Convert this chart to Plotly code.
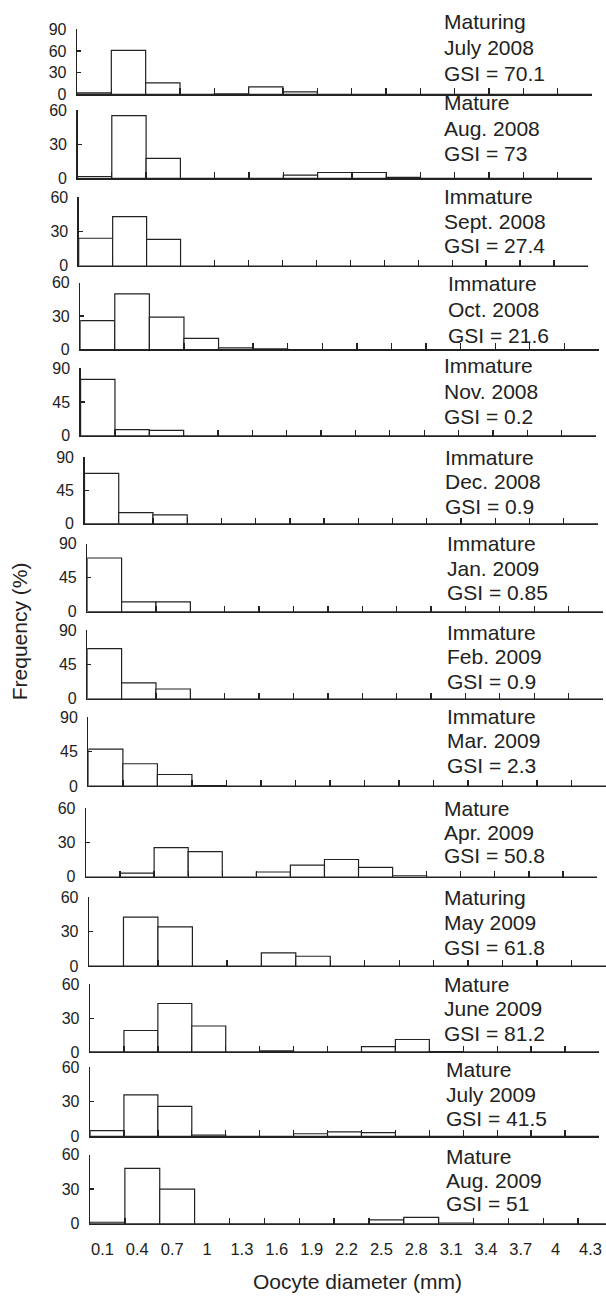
import plotly.graph_objects as go

# ---------------- data ----------------
categories = ["0.1", "0.4", "0.7", "1", "1.3", "1.6", "1.9", "2.2", "2.5",
              "2.8", "3.1", "3.4", "3.7", "4", "4.3"]

stage = ["Maturing", "Mature", "Immature", "Immature", "Immature", "Immature",
         "Immature", "Immature", "Immature", "Mature", "Maturing", "Mature",
         "Mature", "Mature"]
month = ["July 2008", "Aug. 2008", "Sept. 2008", "Oct. 2008", "Nov. 2008",
         "Dec. 2008", "Jan. 2009", "Feb. 2009", "Mar. 2009", "Apr. 2009",
         "May 2009", "June 2009", "July 2009", "Aug. 2009"]
gsi = ["70.1", "73", "27.4", "21.6", "0.2", "0.9", "0.85", "0.9", "2.3",
       "50.8", "61.8", "81.2", "41.5", "51"]

jul_2008 = [2, 61, 16, 0, 0.8, 10.5, 3.5, 0, 0, 0, 0, 0, 0, 0, 0]
aug_2008 = [1.7, 55, 17.6, 0, 0, 0, 2.9, 5.2, 5.2, 0.9, 0, 0, 0, 0, 0]
sep_2008 = [24, 43, 23, 0, 0, 0, 0, 0, 0, 0, 0, 0, 0, 0, 0]
oct_2008 = [26, 50, 29, 10, 1.5, 0.6, 0, 0, 0, 0, 0, 0, 0, 0, 0]
nov_2008 = [75, 8, 7, 0, 0, 0, 0, 0, 0, 0, 0, 0, 0, 0, 0]
dec_2008 = [68, 15, 12, 0, 0, 0, 0, 0, 0, 0, 0, 0, 0, 0, 0]
jan_2009 = [71, 13, 13, 0, 0, 0, 0, 0, 0, 0, 0, 0, 0, 0, 0]
feb_2009 = [66, 21, 13, 0, 0, 0, 0, 0, 0, 0, 0, 0, 0, 0, 0]
mar_2009 = [48, 29, 15, 0.5, 0, 0, 0, 0, 0, 0, 0, 0, 0, 0, 0]
apr_2009 = [0, 3, 25.5, 22, 0, 4, 10, 15, 8, 0.5, 0, 0, 0, 0, 0]
may_2009 = [0, 42.5, 34, 0, 0, 11.5, 8.5, 0, 0, 0, 0, 0, 0, 0, 0]
jun_2009 = [0, 19, 43, 23, 0, 1, 0, 0, 4.7, 11, 0.3, 0, 0, 0, 0]
jul_2009 = [5, 36, 26, 1.2, 0, 0, 2.3, 4, 3.2, 0, 0, 0, 0, 0, 0]
aug_2009 = [1.2, 48, 30, 0, 0, 0, 0, 0, 3.2, 5.5, 0.5, 0, 0, 0, 0]

series = [jul_2008, aug_2008, sep_2008, oct_2008, nov_2008, dec_2008, jan_2009,
          feb_2009, mar_2009, apr_2009, may_2009, jun_2009, jul_2009, aug_2009]

y_max = [90, 60, 60, 60, 90, 90, 90, 90, 90, 60, 60, 60, 60, 60]
y_ticks = [[0, 30, 60, 90], [0, 30, 60], [0, 30, 60], [0, 30, 60],
           [0, 45, 90], [0, 45, 90], [0, 45, 90], [0, 45, 90], [0, 45, 90],
           [0, 30, 60], [0, 30, 60], [0, 30, 60], [0, 30, 60], [0, 30, 60]]

# ---------------- layout geometry (pixels) ----------------
W, H = 606, 1303
# left, right, top, baseline of each panel
geom = [
    (77, 592, 21.7, 87.5),
    (77.5, 592, 103.3, 172.7),
    (78.7, 588, 191.7, 261),
    (80.2, 599, 278.3, 346),
    (80.6, 596, 365, 433.3),
    (84.5, 598, 455, 522.5),
    (87.2, 603, 542.7, 611.7),
    (87.2, 603, 630.7, 700),
    (88.4, 606, 718.3, 788.3),
    (86, 597, 811, 880),
    (89, 606, 900.7, 970.7),
    (90, 599, 989.3, 1057.7),
    (90, 599, 1073.3, 1143.3),
    (90, 606, 1161.7, 1231.7),
]
text_x = [442, 442, 442, 446.5, 442, 442.6, 445, 445, 445, 442, 442, 442, 444, 444]
text_top = [14, 96, 191, 279.3, 362.7, 455, 542.5, 632.5, 717.5, 810.8, 900.8,
            989, 1075.8, 1163.7]
text_bot = [66, 147.3, 240.7, 332.3, 414, 505.5, 592.5, 682.5, 767.5, 859.2,
            951.7, 1039, 1125.5, 1211.7]

FONT = "Liberation Sans, Arial, sans-serif"
INK = "#222222"


def px(x):
    return x / W


def py(y):
    return 1 - y / H


fig = go.Figure()
layout = dict(
    width=W, height=H, margin=dict(l=0, r=0, t=0, b=0),
    paper_bgcolor="white", plot_bgcolor="white", showlegend=False,
    bargap=0, font=dict(family=FONT, color=INK),
)
annotations = []
n = len(series)
for i in range(n):
    k = "" if i == 0 else str(i + 1)
    left, right, top, base = geom[i]
    fig.add_trace(go.Bar(
        x=categories, y=series[i], xaxis="x" + k, yaxis="y" + k, width=1,
        marker=dict(color="white", line=dict(color=INK, width=1.2)),
        hoverinfo="x+y",
    ))
    last = i == n - 1
    xr = [-0.5, 14.5]
    if last:
        # the bottom panel runs past the picture's right edge
        xr = [-0.5, 14.5 - (613 - 606) / ((613 - left) / 15)]
    layout["xaxis" + k] = dict(
        domain=[px(left), px(right)], anchor="y" + k, type="category",
        categoryorder="array", categoryarray=categories, range=xr,
        tickson="boundaries", ticks="inside", ticklen=6, tickwidth=1.3,
        tickcolor=INK, showline=True, linecolor=INK, linewidth=1.3,
        showgrid=False, zeroline=False, showticklabels=last,
        tickfont=dict(size=16.5, family=FONT, color=INK),
        ticklabelstandoff=10 if last else 0,
        ticklabelshift=-5 if last else 0,
        layer="above traces", fixedrange=True,
    )
    layout["yaxis" + k] = dict(
        domain=[py(base), py(top)], anchor="x" + k, range=[0, y_max[i]],
        tickvals=y_ticks[i], ticks="inside", ticklen=4, tickwidth=1.2,
        tickcolor=INK, showline=True, linecolor=INK, linewidth=1.3,
        showgrid=False, zeroline=False,
        tickfont=dict(size=16, family=FONT, color=INK),
        ticklabelstandoff=6, fixedrange=True,
    )
    lines = [stage[i], month[i], "GSI = " + gsi[i]]
    ys = [text_top[i], (text_top[i] + text_bot[i]) / 2, text_bot[i]]
    for t, yy in zip(lines, ys):
        annotations.append(dict(
            text=t, xref="paper", yref="paper", x=px(text_x[i]), y=py(yy),
            xanchor="left", yanchor="middle", showarrow=False,
            font=dict(size=21, family=FONT, color=INK),
        ))

annotations.append(dict(
    text="Frequency (%)", xref="paper", yref="paper", x=px(19.5), y=py(632),
    xanchor="center", yanchor="middle", textangle=-90, showarrow=False,
    font=dict(size=21, family=FONT, color=INK),
))
annotations.append(dict(
    text="Oocyte diameter (mm)", xref="paper", yref="paper", x=px(357),
    y=py(1290), xanchor="center", yanchor="middle", showarrow=False,
    font=dict(size=21, family=FONT, color=INK),
))
layout["annotations"] = annotations
fig.update_layout(**layout)

fig.write_html("out.html", config={"displayModeBar": False, "staticPlot": True},
               post_script="document.body.style.margin='0';"
                           "document.body.style.overflow='hidden';")
